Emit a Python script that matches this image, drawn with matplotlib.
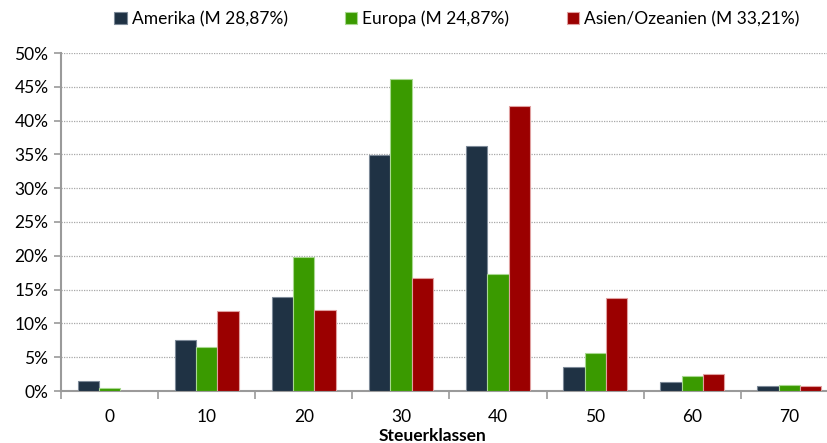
import numpy as np
import matplotlib
matplotlib.use("Agg")
import matplotlib.pyplot as plt
from matplotlib.ticker import FuncFormatter, FixedLocator

# Anteile je Steuerklasse (in %)
klassen  = ["0", "10", "20", "30", "40", "50", "60", "70"]
amerika  = [1.5, 7.5, 13.9, 34.9, 36.2, 3.5, 1.4, 0.7]
europa   = [0.4, 6.5, 19.8, 46.1, 17.3, 5.6, 2.2, 0.9]
asien    = [0.0, 11.8, 12.0, 16.7, 42.1, 13.7, 2.5, 0.7]

serien = [
    ("Amerika (M 28,87%)",        amerika, "#1f3244", "#7d8a98"),
    ("Europa (M 24,87%)",         europa,  "#3a9a00", "#a8d890"),
    ("Asien/Ozeanien (M 33,21%)", asien,   "#9b0000", "#e0a0a0"),
]

plt.rcParams["font.family"] = ["Lato", "DejaVu Sans"]

W, H = 828, 443
fig = plt.figure(figsize=(W / 100, H / 100), dpi=100)
# Achse reicht rechts etwas über den Rand hinaus
ax = fig.add_axes([61 / W, 1 - 391 / H, (838 - 61) / W, (391 - 53) / H])

x = np.arange(len(klassen))
bw = 0.22
for k, (name, vals, farbe, rand) in enumerate(serien):
    ax.bar(x + (k - 1) * bw, vals, width=bw, color=farbe, edgecolor=rand,
           linewidth=0.8, label=name, zorder=3)

ax.set_xlim(-0.5, len(klassen) - 0.5)
ax.set_ylim(0, 50)
ax.set_yticks(np.arange(0, 51, 5))
ax.yaxis.set_major_formatter(FuncFormatter(lambda v, p: f"{v:.0f}%"))
ax.yaxis.grid(True, linestyle=(0, (1, 1)), color="#a8a8a8", linewidth=0.9, zorder=0)

ax.set_xticks(x)
ax.set_xticklabels(klassen)
ax.xaxis.set_minor_locator(FixedLocator(np.arange(-0.5, len(klassen), 1.0)))
ax.tick_params(axis="x", which="major", length=0, pad=13, labelsize=12.5)
ax.tick_params(axis="x", which="minor", length=6, width=1.2, color="#9a9a9a")
ax.tick_params(axis="y", length=5, width=1.2, color="#9a9a9a", labelsize=12.5, pad=4)

for s in ("top", "right"):
    ax.spines[s].set_visible(False)
for s in ("left", "bottom"):
    ax.spines[s].set_color("#9a9a9a")
    ax.spines[s].set_linewidth(1.5)

# Achsentitel unter der Mitte des sichtbaren Bereichs
fig.text(433 / W, 1 - 436 / H, "Steuerklassen", fontsize=12.5,
         fontweight="bold", ha="center", va="center")

fig.legend(loc="center", bbox_to_anchor=(457 / W, 1 - 19 / H), ncol=3,
           frameon=False, fontsize=12.5, handlelength=0.7, handleheight=0.7,
           handletextpad=0.3, columnspacing=3.3)

fig.savefig("out.png", dpi=100)
